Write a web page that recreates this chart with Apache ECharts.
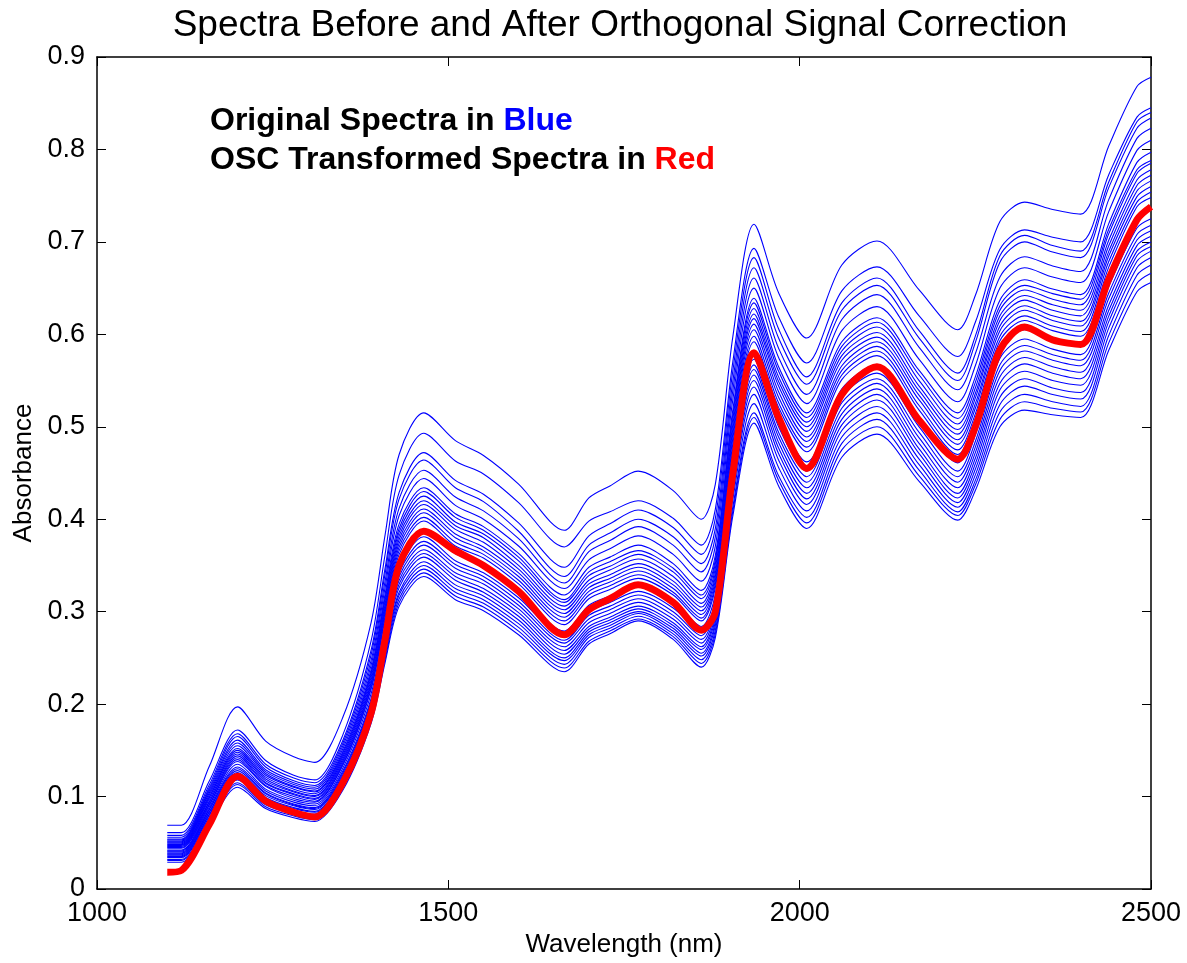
<!DOCTYPE html>
<html>
<head>
<meta charset="utf-8">
<script src="https://cdn.jsdelivr.net/npm/echarts@6/dist/echarts.min.js"></script>
<style>
html,body{margin:0;padding:0;background:#fff;}
#chart{width:1187px;height:963px;}
</style>
</head>
<body>
<div id="chart"></div>
<script>
// Wavelength grid (nm)
const wavelengths = [1100,1120,1160,1200,1240,1280,1310,1350,1390,1410,1430,1465,1510,1550,1600,1665,1700,1730,1770,1820,1860,1880,1905,1935,1970,2010,2060,2110,2170,2225,2250,2285,2320,2360,2400,2440,2480,2500];

// Original spectra (blue), absorbance read at each wavelength
const orig01 = [.069,.069,.133,.197,.160,.143,.137,.186,.288,.383,.470,.515,.485,.469,.438,.388,.423,.436,.452,.431,.400,.438,.598,.719,.645,.596,.675,.701,.648,.605,.642,.722,.743,.735,.730,.804,.868,.878];
const orig02 = [.061,.061,.117,.172,.139,.123,.118,.167,.268,.362,.448,.493,.463,.449,.418,.370,.398,.408,.420,.401,.372,.411,.571,.693,.619,.569,.647,.673,.620,.576,.613,.692,.713,.705,.700,.773,.835,.845];
const orig03 = [.058,.058,.113,.168,.135,.120,.115,.161,.258,.347,.429,.472,.442,.427,.396,.348,.382,.395,.410,.391,.362,.401,.561,.683,.606,.554,.634,.661,.604,.558,.598,.685,.707,.696,.690,.765,.830,.840];
const orig04 = [.056,.056,.110,.165,.132,.117,.112,.158,.253,.341,.422,.464,.434,.419,.387,.338,.372,.385,.400,.381,.352,.390,.550,.672,.596,.546,.626,.653,.596,.550,.591,.678,.700,.689,.683,.759,.823,.834];
const orig05 = [.054,.054,.108,.161,.129,.115,.110,.155,.247,.333,.412,.453,.424,.409,.379,.331,.365,.377,.392,.372,.343,.381,.540,.661,.585,.535,.616,.643,.586,.540,.579,.662,.684,.674,.668,.746,.812,.823];
const orig06 = [.052,.052,.104,.155,.125,.111,.106,.149,.237,.319,.395,.434,.406,.392,.363,.318,.348,.359,.372,.352,.323,.361,.519,.639,.565,.515,.592,.618,.561,.515,.554,.637,.659,.649,.643,.720,.786,.797];
const orig07 = [.050,.050,.100,.150,.121,.108,.103,.145,.232,.312,.386,.425,.397,.384,.355,.310,.339,.349,.362,.343,.314,.352,.509,.628,.554,.505,.582,.608,.550,.503,.542,.626,.648,.638,.632,.709,.774,.785];
const orig08 = [.048,.048,.097,.146,.117,.105,.100,.141,.226,.305,.378,.416,.389,.375,.346,.302,.330,.340,.352,.333,.305,.342,.498,.617,.544,.495,.572,.597,.539,.492,.531,.615,.637,.626,.620,.696,.761,.772];
const orig09 = [.046,.046,.094,.142,.114,.102,.097,.137,.221,.299,.370,.407,.380,.366,.338,.294,.322,.332,.344,.325,.297,.334,.488,.605,.532,.484,.561,.587,.529,.481,.520,.604,.626,.615,.609,.685,.749,.760];
const orig10 = [.044,.044,.091,.138,.111,.098,.094,.134,.216,.292,.362,.398,.371,.358,.330,.286,.314,.324,.336,.318,.290,.326,.477,.592,.521,.473,.551,.577,.518,.470,.509,.593,.615,.604,.598,.673,.738,.748];
const orig11 = [.041,.041,.087,.132,.106,.094,.090,.128,.206,.279,.346,.381,.355,.342,.315,.273,.300,.310,.322,.304,.278,.313,.461,.573,.500,.452,.532,.558,.500,.452,.491,.574,.595,.584,.578,.652,.715,.725];
const orig12 = [.039,.039,.084,.128,.103,.091,.087,.124,.201,.272,.338,.372,.347,.334,.307,.266,.292,.302,.314,.296,.270,.305,.451,.562,.489,.440,.520,.547,.488,.440,.478,.561,.582,.572,.566,.639,.702,.712];
const orig13 = [.037,.037,.081,.124,.099,.088,.084,.120,.196,.265,.330,.363,.338,.325,.299,.258,.284,.294,.306,.288,.262,.297,.441,.550,.477,.428,.508,.535,.476,.428,.466,.547,.568,.558,.552,.626,.690,.700];
const orig14 = [.035,.035,.078,.120,.096,.085,.081,.116,.190,.258,.321,.354,.329,.317,.291,.250,.278,.288,.300,.282,.255,.289,.429,.535,.464,.416,.496,.522,.465,.418,.454,.532,.552,.542,.537,.614,.679,.690];
const orig15 = [.032,.032,.074,.115,.091,.081,.077,.112,.185,.252,.314,.346,.321,.309,.283,.243,.272,.282,.295,.276,.248,.280,.414,.515,.447,.402,.482,.508,.453,.408,.442,.516,.535,.527,.522,.599,.664,.675];
const orig16 = [.029,.029,.070,.110,.087,.077,.073,.107,.179,.245,.306,.338,.313,.301,.275,.235,.265,.276,.290,.270,.240,.272,.404,.504,.436,.390,.467,.492,.441,.399,.431,.500,.518,.513,.510,.583,.646,.656];
const orig17 = [.051,.051,.102,.152,.123,.110,.105,.147,.234,.315,.390,.430,.402,.388,.359,.313,.343,.354,.366,.347,.318,.356,.514,.634,.560,.510,.587,.613,.556,.509,.548,.631,.653,.644,.638,.714,.778,.788];
const orig18 = [.049,.049,.099,.148,.119,.106,.101,.143,.229,.308,.382,.420,.393,.380,.350,.306,.334,.345,.357,.338,.309,.347,.503,.622,.549,.500,.577,.602,.544,.497,.536,.620,.642,.632,.626,.702,.767,.778];
const orig19 = [.047,.047,.095,.144,.115,.103,.098,.139,.223,.302,.374,.411,.384,.370,.342,.298,.326,.336,.348,.329,.301,.338,.493,.611,.538,.489,.566,.592,.534,.486,.525,.609,.631,.620,.614,.690,.755,.766];
const orig20 = [.045,.045,.092,.140,.112,.100,.095,.135,.218,.295,.366,.402,.375,.362,.334,.290,.318,.328,.340,.321,.293,.330,.482,.598,.526,.478,.556,.582,.523,.475,.514,.598,.620,.609,.603,.679,.743,.754];
const orig21 = [.042,.042,.089,.135,.108,.096,.092,.131,.211,.285,.354,.389,.363,.350,.322,.279,.307,.317,.329,.311,.284,.319,.469,.582,.510,.462,.541,.567,.509,.461,.500,.583,.605,.594,.588,.662,.726,.736];
const orig22 = [.040,.040,.086,.130,.104,.092,.088,.126,.203,.275,.342,.376,.351,.338,.311,.269,.296,.306,.318,.300,.274,.309,.456,.567,.494,.446,.526,.552,.494,.446,.484,.567,.588,.578,.572,.645,.708,.718];
const orig23 = [.038,.038,.083,.126,.101,.090,.086,.122,.199,.269,.334,.367,.342,.330,.303,.262,.288,.298,.310,.292,.266,.301,.446,.556,.483,.434,.514,.541,.482,.434,.472,.554,.575,.565,.559,.632,.696,.706];
const orig24 = [.036,.036,.080,.122,.098,.087,.083,.118,.193,.262,.326,.359,.334,.321,.295,.254,.281,.291,.303,.285,.259,.293,.435,.543,.471,.422,.502,.529,.471,.423,.460,.540,.560,.550,.545,.620,.685,.695];
const orig25 = [.034,.034,.076,.118,.094,.083,.079,.114,.188,.255,.318,.350,.325,.313,.287,.247,.275,.285,.298,.279,.252,.285,.422,.525,.456,.409,.489,.515,.459,.413,.448,.524,.544,.535,.530,.607,.672,.683];
const orig26 = [.031,.031,.072,.113,.089,.079,.075,.110,.182,.248,.310,.342,.317,.305,.279,.239,.268,.279,.292,.273,.244,.276,.409,.510,.442,.396,.475,.500,.447,.404,.437,.508,.527,.520,.516,.591,.655,.666];
const orig27 = [.053,.053,.106,.158,.127,.113,.108,.152,.242,.326,.404,.444,.415,.400,.371,.325,.356,.368,.382,.362,.333,.371,.530,.650,.575,.525,.604,.630,.573,.527,.566,.650,.672,.662,.656,.733,.799,.810];

// OSC transformed spectrum (red)
const oscSpectrum = [.018,.020,.070,.122,.095,.083,.078,.115,.190,.270,.350,.387,.366,.350,.322,.275,.302,.314,.329,.310,.280,.300,.450,.580,.510,.455,.535,.565,.507,.465,.500,.583,.608,.594,.589,.660,.724,.738];

// Axis tick labels
const xTickLabels = ['1000','1500','2000','2500'];
const yTickLabels = ['0','0.1','0.2','0.3','0.4','0.5','0.6','0.7','0.8','0.9'];

const originals = [orig01,orig02,orig03,orig04,orig05,orig27,orig06,orig17,orig07,orig18,orig08,orig19,orig09,orig20,orig10,orig21,orig11,orig22,orig12,orig23,orig13,orig24,orig14,orig25,orig15,orig26,orig16];

const FONT = 'Liberation Sans, Arial, Helvetica, sans-serif';
const toPairs = arr => arr.map((v,i)=>[wavelengths[i], v]);

const series = originals.map((arr,i)=>({
  type:'line', name:'orig'+(i+1), data:toPairs(arr), xAxisIndex:0, yAxisIndex:0,
  symbol:'none', animation:false, silent:true, smooth:0.3,
  lineStyle:{color:'#0000ff', width:1.1}
}));
series.push({
  type:'line', name:'osc', data:toPairs(oscSpectrum), xAxisIndex:0, yAxisIndex:0,
  symbol:'none', animation:false, silent:true, z:5, smooth:0.3,
  lineStyle:{color:'#ff0000', width:7}
});

const chart = echarts.init(document.getElementById('chart'), null, {renderer:'canvas'});
const axisLine = {show:true, onZero:false, lineStyle:{color:'#000', width:1.5}};
const tick = {show:true, inside:true, length:9, lineStyle:{color:'#000', width:1}};
chart.setOption({
  animation:false,
  backgroundColor:'#fff',
  grid:{left:97, right:36, top:57, bottom:74, containLabel:false, outerBoundsMode:'none'},
  xAxis:[
    {type:'value', position:'bottom', min:1000, max:2500, interval:500,
     axisLine:axisLine, axisTick:tick, splitLine:{show:false},
     axisLabel:{color:'#000', fontSize:27, fontFamily:FONT, margin:11,
       formatter:(v)=>xTickLabels[Math.round((v-1000)/500)]},
     name:'Wavelength (nm)', nameLocation:'middle', nameGap:41,
     nameTextStyle:{color:'#000', fontSize:26, fontFamily:FONT}},
    {type:'value', position:'top', min:1000, max:2500, interval:500,
     axisLine:axisLine, axisTick:tick, splitLine:{show:false}, axisLabel:{show:false}}
  ],
  yAxis:[
    {type:'value', position:'left', min:0, max:0.9, interval:0.1,
     axisLine:axisLine, axisTick:tick, splitLine:{show:false},
     axisLabel:{color:'#000', fontSize:27, fontFamily:FONT, margin:12,
       formatter:(v)=>yTickLabels[Math.round(v*10)]},
     name:'Absorbance', nameLocation:'middle', nameGap:48, nameRotate:90,
     nameTextStyle:{color:'#000', fontSize:26, fontFamily:FONT}},
    {type:'value', position:'right', min:0, max:0.9, interval:0.1,
     axisLine:axisLine, axisTick:tick, splitLine:{show:false}, axisLabel:{show:false}}
  ],
  graphic:[
    {type:'text', x:620, y:26, style:{text:'Spectra Before and After Orthogonal Signal Correction',
      fontSize:37, fontFamily:FONT, fill:'#000', align:'center', verticalAlign:'middle'}},
    {type:'text', x:210, y:121, style:{text:'{k|Original Spectra in }{b|Blue}',
      verticalAlign:'middle', align:'left',
      rich:{k:{fontSize:32, fontWeight:'bold', fontFamily:FONT, fill:'#000'},
            b:{fontSize:32, fontWeight:'bold', fontFamily:FONT, fill:'#0000ff'}}}},
    {type:'text', x:210, y:160, style:{text:'{k|OSC Transformed Spectra in }{r|Red}',
      verticalAlign:'middle', align:'left',
      rich:{k:{fontSize:32, fontWeight:'bold', fontFamily:FONT, fill:'#000'},
            r:{fontSize:32, fontWeight:'bold', fontFamily:FONT, fill:'#ff0000'}}}}
  ],
  series:series
});
</script>
</body>
</html>
